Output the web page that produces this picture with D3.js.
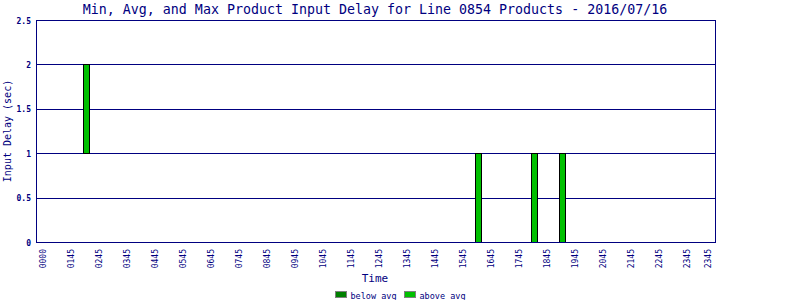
<!DOCTYPE html>
<html>
<head>
<meta charset="utf-8">
<script src="https://cdn.jsdelivr.net/npm/d3@7"></script>
<style>
  body { margin: 0; background: #fff; }
  text { font-family: "DejaVu Sans Mono", monospace; fill: #000080; }
</style>
</head>
<body>
<div id="chart"></div>
<script>
// 15 minute slots through the day (96 of them)
var slots = d3.range(96);
var tickSlots = [0, 4, 8, 12, 16, 20, 24, 28, 32, 36, 40, 44, 48, 52, 56, 60, 64, 68, 72, 76, 80, 84, 88, 92, 95];
var tickLabels = ['0000', '0145', '0245', '0345', '0445', '0545', '0645', '0745', '0845', '0945', '1045', '1145',
  '1245', '1345', '1445', '1545', '1645', '1745', '1845', '1945', '2045', '2145', '2245', '2345', '2345'];

// slots that had products
var barSlots = [6, 62, 70, 74];
var minDelay = [1, 0, 0, 0];
var avgDelay = [1, 0, 0, 0];
var maxDelay = [2, 1, 1, 1];

var yTicks = [0, 0.5, 1, 1.5, 2, 2.5];
var legendNames = ['below avg', 'above avg'];
var legendColors = ['#008000', '#00c000'];

var width = 800, height = 300;
var plotLeft = 36.5, plotRight = 715.5, plotTop = 20.5, plotBottom = 242.5;

var svg = d3.select('#chart').append('svg')
  .attr('width', width)
  .attr('height', height);

var x = d3.scaleLinear().domain([0, 95]).range([43, 708]);
var y = d3.scaleLinear().domain([0, 2.5]).range([plotBottom, plotTop]);

// gridlines
svg.selectAll('.grid')
  .data(yTicks)
  .enter().append('line')
  .attr('x1', plotLeft).attr('x2', plotRight)
  .attr('y1', function(d){ return Math.floor(y(d)) + 0.5 })
  .attr('y2', function(d){ return Math.floor(y(d)) + 0.5 })
  .attr('stroke', '#000080')
  .attr('stroke-width', 1);

// frame
svg.append('rect')
  .attr('x', plotLeft).attr('y', plotTop)
  .attr('width', plotRight - plotLeft).attr('height', plotBottom - plotTop)
  .attr('fill', 'none')
  .attr('stroke', '#000080');

// bars: min -> avg (below), avg -> max (above)
var bars = barSlots.map(function(s, i){
  return { slot: s, min: minDelay[i], avg: avgDelay[i], max: maxDelay[i] };
});

bars.forEach(function(b){
  var bx = Math.round(x(b.slot)) - 1.5;
  if (b.avg > b.min) {
    svg.append('rect')
      .attr('x', bx)
      .attr('y', Math.floor(y(b.avg)) + 0.5)
      .attr('width', 6)
      .attr('height', Math.floor(y(b.min)) - Math.floor(y(b.avg)))
      .attr('fill', legendColors[0])
      .attr('stroke', '#000');
  }
  svg.append('rect')
    .attr('x', bx)
    .attr('y', Math.floor(y(b.max)) + 0.5)
    .attr('width', 6)
    .attr('height', Math.floor(y(b.avg)) - Math.floor(y(b.max)))
    .attr('fill', legendColors[1])
    .attr('stroke', '#000');
});

// redraw bottom axis on top
svg.append('line')
  .attr('x1', plotLeft).attr('x2', plotRight)
  .attr('y1', plotBottom).attr('y2', plotBottom)
  .attr('stroke', '#000080');

// y tick labels
svg.selectAll('.ylab')
  .data(yTicks)
  .enter().append('text')
  .attr('x', 31)
  .attr('y', function(d){ return y(d) + 3 })
  .attr('text-anchor', 'end')
  .attr('font-size', 8)
  .attr('font-weight', 'bold')
  .text(function(d){ return d });

// x tick labels
svg.selectAll('.xlab')
  .data(tickSlots)
  .enter().append('text')
  .attr('transform', function(d){ return 'translate(' + (x(d) + 3) + ',249) rotate(-90)' })
  .attr('text-anchor', 'end')
  .attr('font-size', 8)
  .text(function(d, i){ return tickLabels[i] });

// title
svg.append('text')
  .attr('x', 375).attr('y', 14)
  .attr('text-anchor', 'middle')
  .attr('font-size', 13.3)
  .text('Min, Avg, and Max Product Input Delay for Line 0854 Products - 2016/07/16');

// axis titles
svg.append('text')
  .attr('x', 375).attr('y', 282)
  .attr('text-anchor', 'middle')
  .attr('font-size', 11)
  .text('Time');

svg.append('text')
  .attr('transform', 'translate(11,131) rotate(-90)')
  .attr('text-anchor', 'middle')
  .attr('font-size', 10)
  .text('Input Delay (sec)');

// legend
var legend = svg.selectAll('.legend')
  .data(legendNames)
  .enter().append('g')
  .attr('transform', function(d, i){ return 'translate(' + (335.5 + i * 69) + ',291.5)' });

legend.append('rect')
  .attr('width', 11).attr('height', 6)
  .attr('fill', function(d, i){ return legendColors[i] })
  .attr('stroke', '#808080');

legend.append('text')
  .attr('x', 15).attr('y', 7)
  .attr('font-size', 8.5)
  .text(function(d){ return d });
</script>
</body>
</html>
